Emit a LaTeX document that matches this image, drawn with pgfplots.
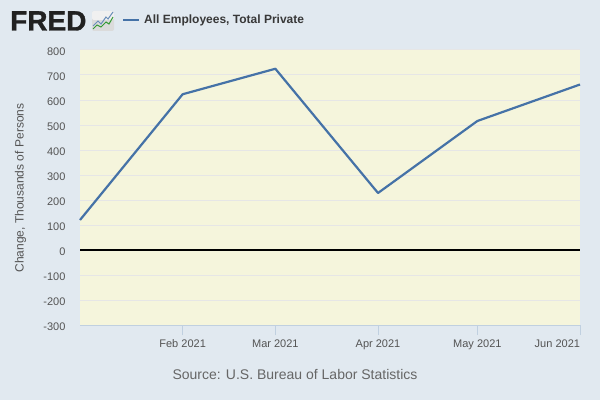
\documentclass[border=0pt]{standalone}
\usepackage{pgfplots}
\pgfplotsset{compat=1.18}
\usepackage{fontspec}
\setmainfont{Liberation Sans}
\newfontfamily\fredfont[UprightFeatures={FakeBold=1.2}]{Liberation Sans Bold}
\definecolor{pagebg}{HTML}{E1E9F0}
\definecolor{plotbg}{HTML}{F5F5DC}
\definecolor{gridc}{HTML}{E6E6E6}
\definecolor{tickc}{HTML}{C0D0E0}
\definecolor{serie}{HTML}{4572A7}
\begin{document}
\begin{tikzpicture}[x=1pt,y=1pt]
\useasboundingbox (0,0) rectangle (600,400);
\fill[pagebg] (0,0) rectangle (600,400);
\begin{axis}[
  at={(80pt,75pt)},anchor=south west,
  scale only axis,width=500pt,height=275pt,
  xmin=0,xmax=151,ymin=-300,ymax=800,
  axis background/.style={fill=plotbg},
  axis line style={draw=none},
  axis x line=bottom,axis y line=left,
  x axis line style={draw=tickc,-},y axis line style={draw=none,-},
  xtick={31,59,90,120,151},
  xticklabels={Feb 2021,Mar 2021,Apr 2021,May 2021,\makebox[0pt][r]{Jun 2021}},
  ytick={-300,-200,-100,0,100,200,300,400,500,600,700,800},
  yticklabels={-300,-200,-100,0,100,200,300,400,500,600,700,800},
  ymajorgrids,
  grid style={gridc,line width=1pt},
  tick align=outside,
  x tick style={draw=tickc,line width=1pt},
  y tick style={draw=none},
  major tick length=10pt,
  xticklabel style={font=\fontsize{11}{13}\selectfont,text=black!67,yshift=-1pt},
  yticklabel style={font=\fontsize{11}{13}\selectfont,text=black!67,xshift=-1pt,yshift=-1.5pt},
  clip=false,
]
\addplot[black,line width=2pt] coordinates {(0,0) (151,0)};
\addplot[serie,line width=2.2pt,line join=round] coordinates {(0,120) (31,623) (59,725) (90,228) (120,516) (151,662)};
\end{axis}
\node[rotate=90,text=black!67,font=\fontsize{12}{14}\selectfont] at (20.5,212) {Change, Thousands of Persons};
\node[text=black!60,font=\fontsize{14}{16}\selectfont] at (295,25.5) {Source: U.S. Bureau of Labor Statistics};
\node[anchor=base west,inner sep=0,text={black!87},font=\fredfont\fontsize{28}{30}\selectfont] at (10,369.5) {FRED};
\fill[black!14,rounded corners=2pt] (92,369) rectangle (114,389);
\fill[white,opacity=.6,rounded corners=2pt] (92,380) rectangle (114,389);
\draw[serie!80,line width=1pt] (93,374) -- (98,379) -- (101,376) -- (106,383) -- (108,381) -- (113,388);
\draw[green!50!black!80,line width=1pt] (93,371) -- (97,375) -- (101,373) -- (106,378) -- (109,376) -- (113,383);
\draw[serie,line width=2pt] (123,380) -- (139,380);
\node[anchor=base west,inner sep=0,text=black!78,font=\bfseries\fontsize{12}{14}\selectfont] at (144,376) {All Employees, Total Private};
\end{tikzpicture}
\end{document}
